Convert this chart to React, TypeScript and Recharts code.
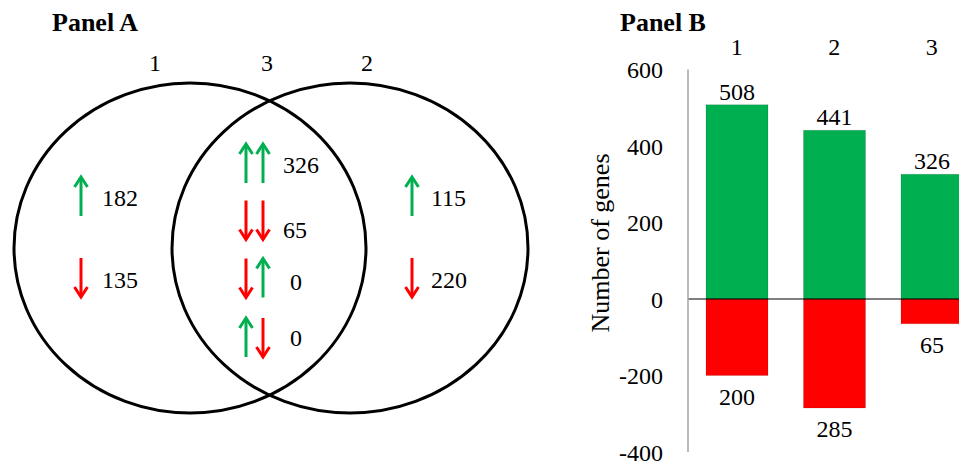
import React from 'react';
import {
  ScatterChart,
  Scatter,
  XAxis,
  YAxis,
  BarChart,
  Bar,
  ReferenceLine,
  LabelList,
  Customized,
} from 'recharts';

const FONT = "'Liberation Serif', 'Times New Roman', serif";
const GREEN = '#00B050';
const RED = '#FF0000';

// ---------- Panel B data ----------
const categories = ['1', '2', '3'];
const upValues = [508, 441, 326];
const downValues = [-200, -285, -65];
const yTicks = [-400, -200, 0, 200, 400, 600];

// ---------- Panel A data ----------
const setNames = ['1', '3', '2'];
const regionPatterns = [
  ['up'],
  ['down'],
  ['up', 'up'],
  ['down', 'down'],
  ['down', 'up'],
  ['up', 'down'],
  ['up'],
  ['down'],
];
const regionCounts = [182, 135, 326, 65, 0, 0, 115, 220];

// Venn layout (diagram units = pixels of the panel)
const vennEllipses = [
  { x: 190, y: 248, rx: 176, ry: 165 },
  { x: 350, y: 248, rx: 178, ry: 165 },
];
const setLabelPos = [
  { x: 155, y: 63 },
  { x: 267, y: 63 },
  { x: 367, y: 63 },
];
const regionPos = [
  { x: 81, y: 196.5, dx: 21, dy: 1 },
  { x: 81, y: 277.5, dx: 21, dy: 2.5 },
  { x: 246, y: 163.5, dx: 37, dy: 1.5 },
  { x: 246, y: 220, dx: 37, dy: 10 },
  { x: 246, y: 278, dx: 44, dy: 4 },
  { x: 246, y: 337.5, dx: 44, dy: 0.5 },
  { x: 412, y: 196.5, dx: 19, dy: 1 },
  { x: 412, y: 277.5, dx: 19, dy: 2.5 },
];

const barData = categories.map((c, i) => ({ cat: c, up: upValues[i], down: downValues[i] }));
const ellipseData = vennEllipses.map((e) => ({ ...e }));
const setLabelData = setNames.map((n, i) => ({ ...setLabelPos[i], name: n }));
const regionData = regionCounts.map((c, i) => ({ ...regionPos[i], count: c, pattern: regionPatterns[i] }));

const Arrow = ({ x, y, dir }: { x: number; y: number; dir: string }) => {
  const half = 19.5;
  const up = dir === 'up';
  const color = up ? GREEN : RED;
  const tip = up ? y - half : y + half;
  const tail = up ? y + half : y - half;
  const s = up ? 1 : -1;
  return (
    <g stroke={color} strokeWidth={3} fill="none">
      <line x1={x} y1={tail} x2={x} y2={tip + s * 1.5} />
      <polyline
        points={`${x - 6.5},${tip + s * 10} ${x},${tip} ${x + 6.5},${tip + s * 10}`}
        strokeLinejoin="miter"
      />
    </g>
  );
};

const EllipseShape = (props: any) => (
  <ellipse
    cx={props.cx}
    cy={props.cy}
    rx={props.payload.rx}
    ry={props.payload.ry}
    fill="none"
    stroke="#000"
    strokeWidth={3}
  />
);

const SetLabelShape = (props: any) => (
  <text
    x={props.cx}
    y={props.cy}
    textAnchor="middle"
    dominantBaseline="central"
    fontFamily={FONT}
    fontSize={24}
    fill="#000"
  >
    {props.payload.name}
  </text>
);

const RegionShape = (props: any) => {
  const p = props.payload;
  return (
    <g>
      {p.pattern.map((d: string, i: number) => (
        <Arrow key={i} x={props.cx + i * 17} y={props.cy} dir={d} />
      ))}
      <text
        x={props.cx + p.dx}
        y={props.cy + p.dy}
        textAnchor="start"
        dominantBaseline="central"
        fontFamily={FONT}
        fontSize={24}
        fill="#000"
      >
        {p.count}
      </text>
    </g>
  );
};

const UpLabel = (p: any) => {
  const top = Math.min(p.y, p.y + p.height);
  return (
    <text
      x={p.x + p.width / 2}
      y={top - 13}
      textAnchor="middle"
      dominantBaseline="central"
      fontFamily={FONT}
      fontSize={24}
      fill="#000"
    >
      {Math.abs(p.value)}
    </text>
  );
};

const DownLabel = (p: any) => {
  const bottom = Math.max(p.y, p.y + p.height);
  return (
    <text
      x={p.x + p.width / 2}
      y={bottom + 21}
      textAnchor="middle"
      dominantBaseline="central"
      fontFamily={FONT}
      fontSize={24}
      fill="#000"
    >
      {Math.abs(p.value)}
    </text>
  );
};

const YTitle = () => (
  <text
    x={40}
    y={243}
    transform="rotate(-90, 40, 243)"
    textAnchor="middle"
    dominantBaseline="central"
    fontFamily={FONT}
    fontSize={26}
    fill="#000"
  >
    Number of genes
  </text>
);

export default function App() {
  return (
    <div
      style={{
        position: 'fixed',
        left: 0,
        top: 0,
        width: 959,
        height: 462,
        overflow: 'hidden',
        background: '#fff',
      }}
    >
      <div style={{ position: 'absolute', left: 0, top: 0 }}>
        <ScatterChart width={560} height={462} margin={{ top: 0, right: 0, bottom: 0, left: 0 }}>
          <XAxis type="number" dataKey="x" domain={[0, 560]} hide allowDataOverflow />
          <YAxis type="number" dataKey="y" domain={[0, 462]} reversed hide allowDataOverflow />
          <Scatter data={ellipseData} shape={EllipseShape} isAnimationActive={false} />
          <Scatter data={setLabelData} shape={SetLabelShape} isAnimationActive={false} />
          <Scatter data={regionData} shape={RegionShape} isAnimationActive={false} />
          <Customized
            component={() => (
              <text x={52} y={31} fontFamily={FONT} fontSize={26} fontWeight="bold" fill="#000">
                Panel A
              </text>
            )}
          />
        </ScatterChart>
      </div>
      <div style={{ position: 'absolute', left: 560, top: 0 }}>
        <BarChart
          width={500}
          height={462}
          data={barData}
          stackOffset="sign"
          barSize={62}
          margin={{ top: 39.5, right: 79.5, bottom: 10, left: 68 }}
        >
          <XAxis
            dataKey="cat"
            orientation="top"
            axisLine={false}
            tickLine={false}
            tickSize={0}
            tickMargin={15}
            height={30}
            interval={0}
            tick={{ fontSize: 24, fill: '#000', fontFamily: FONT }}
          />
          <YAxis
            type="number"
            domain={[-400, 600]}
            ticks={yTicks}
            interval={0}
            axisLine={{ stroke: '#A6A6A6', strokeWidth: 1.5 }}
            tickLine={false}
            tickSize={0}
            tickMargin={25}
            width={60}
            tick={{ fontSize: 24, fill: '#000', fontFamily: FONT }}
            label={{ content: YTitle }}
          />
          <Bar
            dataKey="up"
            stackId="a"
            fill={GREEN}
            stroke="rgba(0,0,0,0.12)"
            strokeWidth={1}
            isAnimationActive={false}
          >
            <LabelList dataKey="up" content={UpLabel} />
          </Bar>
          <Bar
            dataKey="down"
            stackId="a"
            fill={RED}
            stroke="rgba(0,0,0,0.12)"
            strokeWidth={1}
            isAnimationActive={false}
          >
            <LabelList dataKey="down" content={DownLabel} />
          </Bar>
          <ReferenceLine y={0} stroke="#000" strokeWidth={1.2} />
          <Customized
            component={() => (
              <text x={60} y={31} fontFamily={FONT} fontSize={26} fontWeight="bold" fill="#000">
                Panel B
              </text>
            )}
          />
        </BarChart>
      </div>
    </div>
  );
}
